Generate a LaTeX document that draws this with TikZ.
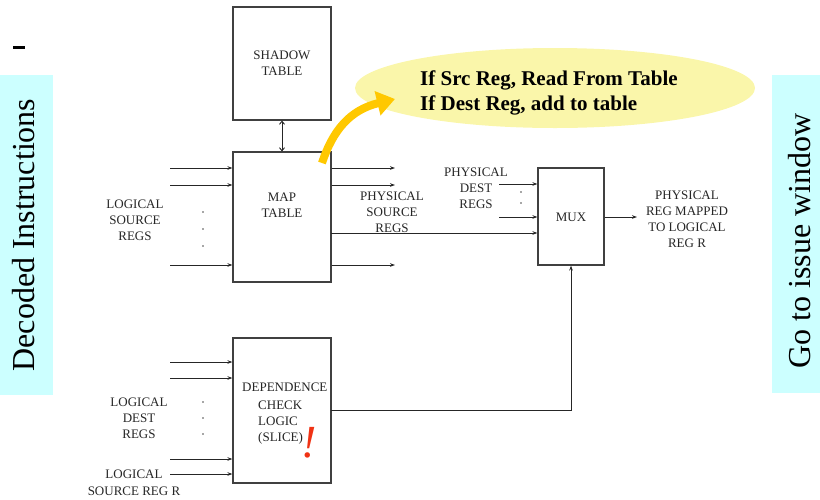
\documentclass[tikz,border=0pt]{standalone}
\usepackage{fontspec}
\setmainfont{Liberation Serif}
\usetikzlibrary{arrows.meta,shapes.geometric}
\definecolor{sidecyan}{RGB}{204,255,255}
\definecolor{bubble}{RGB}{250,246,170}
\definecolor{goldarrow}{RGB}{255,200,0}
\definecolor{bang}{RGB}{240,50,20}
\definecolor{edge}{RGB}{64,64,64}
\begin{document}
\begin{tikzpicture}[x=1pt,y=-1pt,
  blk/.style={draw=edge, line width=1.2pt, fill=white, inner sep=0pt},
  lbl/.style={font=\fontsize{13}{16}\selectfont, align=center, inner sep=0pt, text=black!85},
  wire/.style={draw=black!85, line width=0.9pt, -{Stealth[length=5pt,width=3.6pt]}},
  side/.style={font=\fontsize{32}{36}\selectfont, rotate=90, inner sep=0pt},
  dotmark/.style={fill=black!70, circle, inner sep=0pt, minimum size=1.6pt}
]
\useasboundingbox (0,0) rectangle (820,499);

% side panels
\fill[sidecyan] (0,75) rectangle (53,395);
\fill[sidecyan] (772,75) rectangle (820,393);
\node[side] (dec) at (24,235) {Decoded Instructions};
\node[side] (go) at (800,241) {Go to issue window};
\draw[line width=3pt] (13,47) -- (25,47);

% blocks
\node[blk, minimum width=98pt, minimum height=113pt] (shadow) at (282,63.5) {};
\node[blk, minimum width=98pt, minimum height=130pt] (map) at (282,217) {};
\node[blk, minimum width=66pt, minimum height=97pt] (mux) at (571,216.5) {};
\node[blk, minimum width=98pt, minimum height=145pt] (dep) at (282,410.5) {};

\node[lbl] (shadowt) at (282,63.5) {SHADOW\\TABLE};
\node[lbl] (mapt) at (282,205) {MAP\\TABLE};
\node[lbl] (muxt) at (571,217) {MUX};
\node[lbl, anchor=west] (dept1) at (242,387) {DEPENDENCE};
\node[lbl, align=left, anchor=north west] (dept2) at (258,401) {CHECK\\LOGIC\\(SLICE)};
\node[font=\fontsize{46}{46}\selectfont\itshape, text=bang, inner sep=0pt] (bangt) at (309,443) {!};

% shadow <-> map
\draw[draw=black!85, line width=0.9pt, {Straight Barb[length=3pt,width=5pt]}-{Straight Barb[length=3pt,width=5pt]}] (shadow.south) -- (map.north);

% inputs to map table
\coordinate (a1) at (170,168);
\coordinate (a2) at (170,185);
\coordinate (a3) at (170,265);
\draw[wire] (a1) -- (a1 -| map.west);
\draw[wire] (a2) -- (a2 -| map.west);
\draw[wire] (a3) -- (a3 -| map.west);
\node[dotmark] (d1) at (203,212) {};
\node[dotmark] (d2) at (203,229) {};
\node[dotmark] (d3) at (203,246) {};
\node[lbl] (lsr) at (135,220) {LOGICAL\\SOURCE\\REGS};

% outputs of map table
\coordinate (b1) at (395,168);
\coordinate (b2) at (395,185);
\coordinate (b3) at (395,265);
\coordinate (b4) at (331,233);
\draw[wire] (b1 -| map.east) -- (b1);
\draw[wire] (b2 -| map.east) -- (b2);
\draw[wire] (b3 -| map.east) -- (b3);
\draw[wire] (b4) -- (b4 -| mux.west);
\node[lbl] (psr) at (392,212) {PHYSICAL\\SOURCE\\REGS};

% mux inputs/outputs
\coordinate (c1) at (499,184);
\coordinate (c2) at (499,217);
\draw[wire] (c1) -- (c1 -| mux.west);
\draw[wire] (c2) -- (c2 -| mux.west);
\node[dotmark] (d4) at (521,192) {};
\node[dotmark] (d5) at (521,203) {};
\node[lbl] (pdr) at (476,188) {PHYSICAL\\DEST\\REGS};
\coordinate (m1) at (637,217);
\draw[wire] (m1 -| mux.east) -- (m1);
\node[lbl] (prm) at (687,219.5) {PHYSICAL\\REG MAPPED\\TO LOGICAL\\REG R};

% dependence logic inputs
\coordinate (e1) at (170,362);
\coordinate (e2) at (170,378);
\coordinate (e3) at (170,459);
\coordinate (e4) at (170,474);
\draw[wire] (e1) -- (e1 -| dep.west);
\draw[wire] (e2) -- (e2 -| dep.west);
\draw[wire] (e3) -- (e3 -| dep.west);
\draw[wire] (e4) -- (e4 -| dep.west);
\node[dotmark] (d6) at (203,402) {};
\node[dotmark] (d7) at (203,418) {};
\node[dotmark] (d8) at (203,434) {};
\node[lbl] (ldr) at (139,418) {LOGICAL\\DEST\\REGS};
\node[lbl, font=\fontsize{13}{17}\selectfont] (lsrr) at (134,482.5) {LOGICAL\\SOURCE REG R};

% dependence to mux
\coordinate (f1) at (331,410);
\draw[wire] (f1) -| (mux.south);

% bubble and curved arrow
\node[ellipse, fill=bubble, minimum width=400pt, minimum height=80pt, inner sep=0pt] (bub) at (555,88) {};
\node[font=\fontsize{21}{25}\selectfont\bfseries, align=left, anchor=west, inner sep=0pt] (bubt) at (420,93) {If Src Reg, Read From Table\\If Dest Reg, add to table};
\coordinate (g0) at (322,163);
\coordinate (g1) at (395,99);
\draw[goldarrow, line width=8pt, -{Triangle[length=18pt,width=24pt]}] (g0) .. controls (333,130) and (350,110) .. (g1);
\end{tikzpicture}
\end{document}
